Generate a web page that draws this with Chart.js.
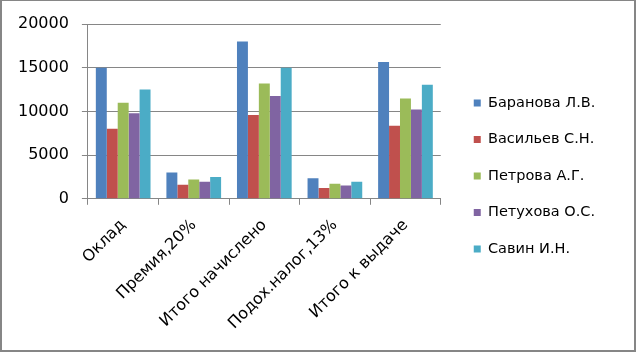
<!DOCTYPE html>
<html lang="ru">
<head>
<meta charset="utf-8">
<title>Зарплата</title>
<script src="https://cdn.jsdelivr.net/npm/chart.js@4/dist/chart.umd.min.js"></script>
<style>
    html, body { margin: 0; padding: 0; background: #fff; }
    #wrap { position: relative; width: 636px; height: 352px; }
    #frame {
        position: absolute; left: 0; top: 0; width: 636px; height: 352px;
        box-sizing: border-box; pointer-events: none;
        border: 2px solid #868686; border-top-width: 1px;
    }
    canvas { position: absolute; left: 0; top: 0; }
</style>
</head>
<body>
<div id="wrap">
    <canvas id="salaryChart" width="636" height="352"></canvas>
    <div id="frame"></div>
</div>
<script>
// Data
const categories = ['Оклад', 'Премия,20%', 'Итого начислено', 'Подох.налог,13%', 'Итого к выдаче'];
const employees = ['Баранова Л.В.', 'Васильев С.Н.', 'Петрова А.Г.', 'Петухова О.С.', 'Савин И.Н.'];

const baranova = [15000, 3000, 18000, 2340, 15660];
const vasiliev = [8000, 1600, 9600, 1248, 8352];
const petrova = [11000, 2200, 13200, 1716, 11484];
const petukhova = [9800, 1960, 11760, 1529, 10231];
const savin = [12500, 2500, 15000, 1950, 13050];

const yTicks = [0, 5000, 10000, 15000, 20000];

const colors = ['#4f81bd', '#c0504d', '#9bbb59', '#8064a2', '#4bacc6'];
const gridColor = '#868686';
const font = 'DejaVu Sans';

// shift legend a bit away from the plot, and center it on the canvas height
const legendShift = {
    id: 'legendShift',
    afterLayout(chart) {
        const lg = chart.legend;
        if (!lg) return;
        const w = lg.width;
        lg.left = chart.chartArea.right + 11;
        lg.right = lg.left + w;
        lg.top = 0;
        lg.bottom = chart.height;
    }
};

const seriesData = [baranova, vasiliev, petrova, petukhova, savin];

new Chart(document.getElementById('salaryChart'), {
    type: 'bar',
    data: {
        labels: categories,
        datasets: employees.map((name, i) => ({
            label: name,
            data: seriesData[i],
            backgroundColor: colors[i],
            borderWidth: 0,
            categoryPercentage: 0.775,
            barPercentage: 1
        }))
    },
    options: {
        responsive: false,
        animation: false,
        devicePixelRatio: 1,
        layout: {
            padding: { left: 5, top: 24, right: 50, bottom: 8 }
        },
        plugins: {
            legend: {
                position: 'right',
                labels: {
                    boxWidth: 7,
                    boxHeight: 7,
                    padding: 22,
                    color: '#000',
                    font: { family: font, size: 14.5 }
                }
            },
            tooltip: { enabled: false }
        },
        scales: {
            x: {
                grid: {
                    offset: true,
                    drawOnChartArea: false,
                    tickLength: 6,
                    color: gridColor
                },
                border: { color: gridColor },
                ticks: {
                    autoSkip: false,
                    minRotation: 45,
                    maxRotation: 45,
                    padding: 11,
                    color: '#000',
                    font: { family: font, size: 16 }
                }
            },
            y: {
                min: 0,
                max: 20000,
                afterBuildTicks: axis => {
                    axis.ticks = yTicks.map(v => ({ value: v }));
                },
                grid: {
                    tickLength: 6,
                    color: gridColor
                },
                border: { color: gridColor },
                ticks: {
                    padding: 13,
                    color: '#000',
                    font: { family: font, size: 16 },
                    callback: value => String(value)
                }
            }
        }
    },
    plugins: [legendShift]
});
</script>
</body>
</html>
